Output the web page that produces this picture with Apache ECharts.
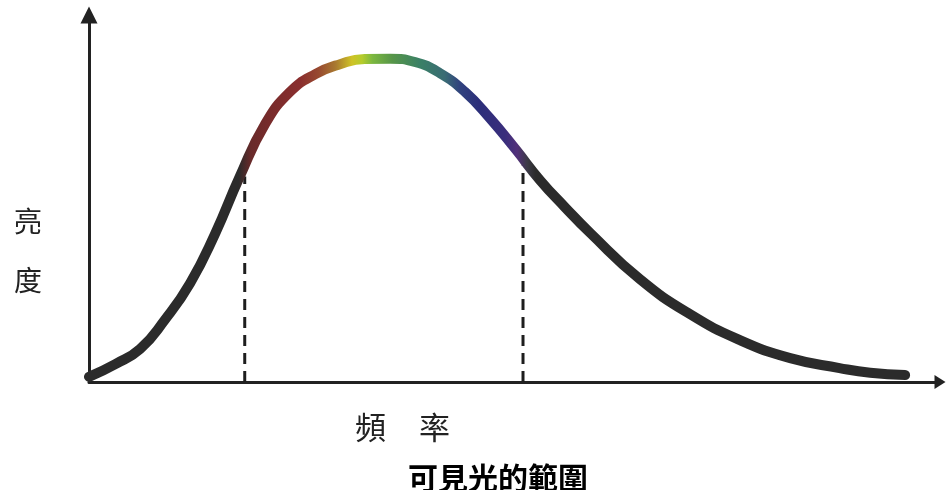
<!DOCTYPE html>
<html>
<head>
<meta charset="utf-8">
<script src="https://cdn.jsdelivr.net/npm/echarts@6/dist/echarts.min.js"></script>
<style>
  html, body { margin: 0; padding: 0; background: #ffffff; }
  #chart { width: 948px; height: 490px; }
</style>
</head>
<body>
<div id="chart"></div>
<script>
// ---- data (arbitrary units: frequency 0-100, brightness 0-100) ----
const frequency  = [0, 3.1, 6.0, 8.9, 11.9, 14.8, 17.7, 20.7, 23.6, 26.6, 29.5, 32.4, 35.4, 38.3, 41.2, 44.2, 47.1, 50.1, 53.0, 55.9, 58.9, 64.7, 70.6, 76.5, 82.4, 88.2, 91.8, 95.9];
const brightness = [1.4, 4.9, 9.0, 16.9, 27.0, 40.3, 55.9, 70.3, 79.0, 83.9, 86.6, 88.0, 88.1, 87.2, 84.2, 79.0, 71.9, 63.5, 55.0, 47.7, 40.6, 28.1, 18.5, 11.4, 6.5, 3.8, 2.5, 1.9];
const visibleRange = [18.3, 51.0];          // frequency bounds of visible light
const visibleEdgeHeight = [56, 59];         // dashed guide heights (reach the curve)
const yAxisTitle = ['亮', '度'];
const xAxisTitle = ['頻', '率'];
const chartTitle = '可見光的範圍';

// ---- build ----
const curveData = frequency.map((f, i) => [f, brightness[i]]);

const GRID_LEFT = 89, GRID_RIGHT = 8, GRID_TOP = 15, GRID_BOTTOM = 108;
const W = 948;
const x0 = GRID_LEFT, x1 = W - GRID_RIGHT;

// spectrum gradient along the frequency axis (offset = frequency / 100)
const spectrum = [
  [0.000, '#2b2b2b'],
  [0.176, '#2b2b2b'],
  [0.190, '#682a2a'],
  [0.213, '#782b2b'],
  [0.248, '#8a2e2e'],
  [0.270, '#984a30'],
  [0.290, '#a97a30'],
  [0.309, '#cfc326'],
  [0.321, '#b4cc2c'],
  [0.333, '#7cb840'],
  [0.356, '#579648'],
  [0.389, '#3a8066'],
  [0.418, '#3a6c74'],
  [0.436, '#30427e'],
  [0.459, '#2c2e7a'],
  [0.489, '#3a2e7c'],
  [0.503, '#52307a'],
  [0.515, '#3c3a46'],
  [0.525, '#2b2b2b'],
  [1.000, '#2b2b2b']
].map(([o, c]) => ({ offset: o, color: c }));

const chart = echarts.init(document.getElementById('chart'), null, { renderer: 'canvas' });

const dashStyle = { color: '#1e1e1e', width: 3, type: [11, 7] };

chart.setOption({
  animation: false,
  backgroundColor: '#ffffff',
  grid: { left: GRID_LEFT, right: GRID_RIGHT, top: GRID_TOP, bottom: GRID_BOTTOM, containLabel: false },
  title: {
    text: chartTitle,
    left: 403,
    top: 458,
    textStyle: { fontFamily: 'Noto Sans CJK TC', fontWeight: 'bold', fontSize: 30, color: '#000' }
  },
  xAxis: {
    type: 'value', min: 0, max: 100,
    axisLine: { show: true, onZero: false, lineStyle: { color: '#222', width: 3 },
      symbol: ['none', 'triangle'], symbolSize: [14, 11], symbolOffset: [0, 0] },
    axisTick: { show: false }, axisLabel: { show: false }, splitLine: { show: false }
  },
  yAxis: {
    type: 'value', min: 0, max: 100,
    axisLine: { show: true, onZero: false, lineStyle: { color: '#222', width: 3 },
      symbol: ['none', 'triangle'], symbolSize: [17, 17], symbolOffset: [0, 0] },
    axisTick: { show: false }, axisLabel: { show: false }, splitLine: { show: false }
  },
  graphic: [
    { type: 'text', left: 14, top: 207, style: { text: yAxisTitle[0], font: '28px "Noto Sans CJK TC"', fill: '#222' } },
    { type: 'text', left: 14, top: 266, style: { text: yAxisTitle[1], font: '28px "Noto Sans CJK TC"', fill: '#222' } },
    { type: 'text', left: 355, top: 412, style: { text: xAxisTitle[0], font: '31px "Noto Sans CJK TC"', fill: '#222' } },
    { type: 'text', left: 419, top: 412, style: { text: xAxisTitle[1], font: '31px "Noto Sans CJK TC"', fill: '#222' } }
  ],
  series: [
    {
      type: 'line', z: 1, symbol: 'none', silent: true,
      data: [[visibleRange[0], 0], [visibleRange[0], visibleEdgeHeight[0]]],
      lineStyle: dashStyle
    },
    {
      type: 'line', z: 1, symbol: 'none', silent: true,
      data: [[visibleRange[1], 0], [visibleRange[1], visibleEdgeHeight[1]]],
      lineStyle: dashStyle
    },
    {
      type: 'line', z: 3, symbol: 'none', smooth: 0.5, silent: true,
      data: curveData,
      lineStyle: {
        width: 10, cap: 'round', join: 'round',
        color: new echarts.graphic.LinearGradient(x0, 0, x1, 0, spectrum, true)
      }
    }
  ]
});
</script>
</body>
</html>
